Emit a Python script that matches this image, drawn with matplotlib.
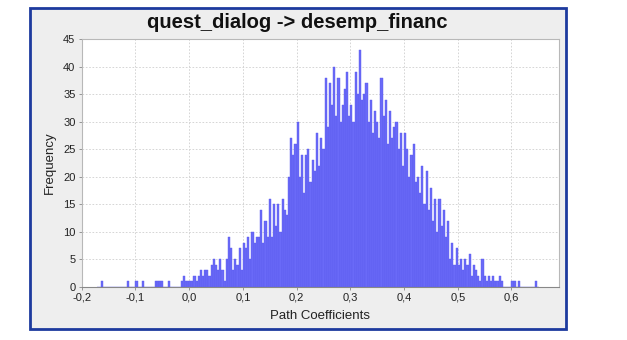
import matplotlib
matplotlib.use("Agg")
import matplotlib.pyplot as plt
from matplotlib.patches import Rectangle
import numpy as np

plt.rcParams['font.family'] = ['Liberation Sans', 'DejaVu Sans']

title = "quest_dialog -> desemp_financ"
xlabel = "Path Coefficients"
ylabel = "Frequency"

bin_start = -0.172
bin_width = 0.004
counts = [
    0, 0, 1, 0, 0, 0, 0, 0, 0, 0,
    0, 0, 0, 0, 1, 0, 0, 0, 1, 0,
    0, 1, 0, 0, 0, 0, 0, 1, 1, 1,
    1, 0, 0, 1, 0, 0, 0, 0, 0, 1,
    2, 1, 1, 1, 1, 2, 1, 2, 3, 2,
    3, 3, 2, 4, 5, 4, 3, 5, 3, 1,
    5, 9, 7, 3, 5, 4, 7, 3, 8, 7,
    9, 5, 10, 8, 9, 9, 14, 8, 12, 9,
    16, 9, 15, 11, 15, 10, 16, 14, 13, 20,
    27, 24, 26, 30, 20, 24, 17, 24, 25, 19,
    23, 21, 28, 22, 27, 25, 38, 29, 37, 33,
    40, 31, 38, 30, 33, 36, 39, 31, 33, 30,
    39, 35, 43, 34, 35, 37, 30, 34, 28, 32,
    30, 27, 38, 31, 34, 26, 32, 27, 29, 30,
    25, 28, 22, 28, 25, 20, 24, 26, 19, 20,
    17, 22, 15, 21, 14, 18, 12, 16, 10, 16,
    11, 14, 9, 12, 5, 8, 4, 7, 4, 5,
    3, 5, 4, 6, 2, 4, 3, 2, 1, 5,
    2, 1, 2, 1, 2, 1, 1, 2, 1, 0,
    0, 0, 0, 1, 1, 0, 1, 0, 0, 0,
    0, 0, 0, 0, 1, 0,
]
xticks = [-0.2, -0.1, 0.0, 0.1, 0.2, 0.3, 0.4, 0.5, 0.6]
xtick_labels = ["-0,2", "-0,1", "0,0", "0,1", "0,2", "0,3", "0,4", "0,5", "0,6"]
yticks = [0, 5, 10, 15, 20, 25, 30, 35, 40, 45]

W, H = 627, 340
fig = plt.figure(figsize=(W / 100, H / 100), dpi=100, facecolor='white')

# grey panel with blue border
fig.patches.append(Rectangle((30 / W, 1 - 329 / H), 536 / W, 321 / H,
                             transform=fig.transFigure, facecolor='#eeeeee',
                             edgecolor='#1d3a9e', linewidth=2.0, zorder=-5))

ax = fig.add_axes([81.7 / W, 1 - 286.7 / H, (559.3 - 81.7) / W, (286.7 - 39.3) / H])
ax.set_zorder(2)
ax.set_facecolor('white')

lefts = [bin_start + i * bin_width for i in range(len(counts))]
ax.bar(lefts, counts, width=bin_width, align='edge', color='#6a6af8',
       edgecolor='#5a5aee', linewidth=0.3, zorder=2)

ax.set_xlim(-0.2, 0.689)
ax.set_ylim(0, 45)
ax.set_xticks(xticks)
ax.set_xticklabels(xtick_labels)
ax.set_yticks(yticks)
ax.tick_params(axis='both', labelsize=8, length=2.5, width=0.6, color='#888888',
               pad=2, labelcolor='#222222')
ax.grid(True, color='#cfcfcf', linestyle=(0, (2, 2)), linewidth=0.6, zorder=0)
ax.set_axisbelow(True)
for s in ax.spines.values():
    s.set_color('#b8b8b8')
    s.set_linewidth(0.8)
ax.spines['bottom'].set_color('#888888')

ax.set_xlabel(xlabel, fontsize=9.5, color='#222222', labelpad=5)
ax.set_ylabel(ylabel, fontsize=9.5, color='#222222', labelpad=5)

fig.text(297 / W, 1 - 23 / H, title, ha='center', va='center',
         fontsize=14.5, fontweight='bold', color='#111111')

fig.savefig('out.png', dpi=100, facecolor='white')
